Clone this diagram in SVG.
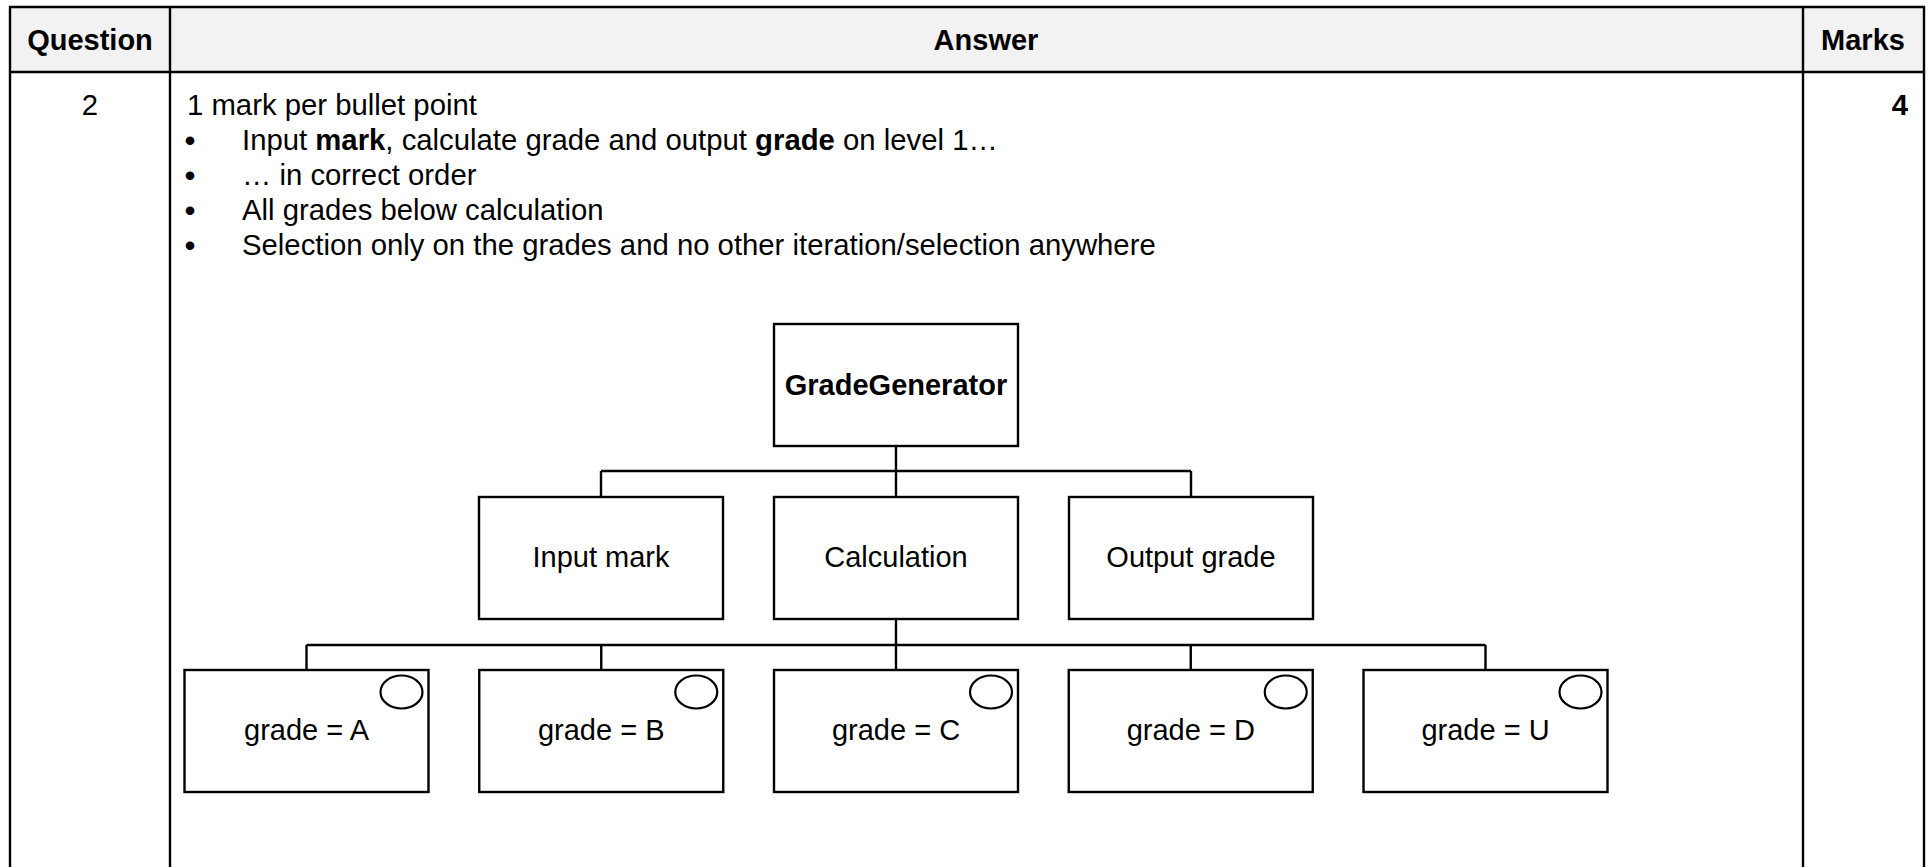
<svg xmlns="http://www.w3.org/2000/svg" width="1930" height="867" viewBox="0 0 1930 867">
<style>
text{font-family:"Liberation Sans",Arial,sans-serif;fill:#000;}
.hd{font-size:29px;font-weight:bold;text-anchor:middle;}
.bd{font-size:29.3px;}
.bul{font-size:30px;text-anchor:middle;font-weight:bold;}
.box rect{fill:#fff;stroke:#000;stroke-width:2.4;}
.box text{font-size:29px;text-anchor:middle;}
.sel{fill:none;stroke:#000;stroke-width:2.2;}
.tl{stroke:#000;stroke-width:2.4;fill:none;}
#connectors path{fill:none;stroke:#000;stroke-width:2.4;}
</style>
<rect x="0" y="0" width="1930" height="867" fill="#fff"/>
<g id="table">
<rect x="10" y="7" width="1914" height="65" fill="#f2f2f2"/>
<path class="tl" d="M10 867V7H1924V867M10 72H1924M170 7V867M1803 7V867"/>
<text class="hd" x="90" y="50">Question</text>
<text class="hd" x="986" y="50">Answer</text>
<text class="hd" x="1863" y="50">Marks</text>
<text class="bd" x="90" y="115" text-anchor="middle">2</text>
<text class="bd" x="1908" y="115" text-anchor="end" font-weight="bold">4</text>
<text class="bd" x="187" y="115">1 mark per bullet point</text>
<text class="bul" x="190" y="151">•</text>
<text class="bd" x="242" y="150">Input <tspan font-weight="bold">mark</tspan>, calculate grade and output <tspan font-weight="bold">grade</tspan> on level 1…</text>
<text class="bul" x="190" y="186">•</text>
<text class="bd" x="242" y="185">… in correct order</text>
<text class="bul" x="190" y="221">•</text>
<text class="bd" x="242" y="220">All grades below calculation</text>
<text class="bul" x="190" y="256">•</text>
<text class="bd" x="242" y="255">Selection only on the grades and no other iteration/selection anywhere</text>
</g>
<g id="connectors">
<path d="M896 446V471M601 471H1191M601 471V497M896 471V497M1191 471V497"/>
<path d="M896 619V645M306.5 645H1485.5M306.5 645V670M601.25 645V670M896 645V670M1190.75 645V670M1485.5 645V670"/>
</g>
<g id="gradegenerator" class="box">
<rect x="774" y="324" width="244" height="122"/>
<text x="896" y="395" font-weight="bold">GradeGenerator</text>
</g>
<g id="input-mark" class="box">
<rect x="479" y="497" width="244" height="122"/>
<text x="601" y="567">Input mark</text>
</g>
<g id="calculation" class="box">
<rect x="774" y="497" width="244" height="122"/>
<text x="896" y="567">Calculation</text>
</g>
<g id="output-grade" class="box">
<rect x="1069" y="497" width="244" height="122"/>
<text x="1191" y="567">Output grade</text>
</g>
<g id="grade-a" class="box">
<rect x="184.5" y="670" width="244" height="122"/>
<ellipse class="sel" cx="401.5" cy="692" rx="21" ry="16.5"/>
<text x="306.5" y="740">grade = A</text>
</g>
<g id="grade-b" class="box">
<rect x="479.25" y="670" width="244" height="122"/>
<ellipse class="sel" cx="696.25" cy="692" rx="21" ry="16.5"/>
<text x="601.25" y="740">grade = B</text>
</g>
<g id="grade-c" class="box">
<rect x="774" y="670" width="244" height="122"/>
<ellipse class="sel" cx="991" cy="692" rx="21" ry="16.5"/>
<text x="896" y="740">grade = C</text>
</g>
<g id="grade-d" class="box">
<rect x="1068.75" y="670" width="244" height="122"/>
<ellipse class="sel" cx="1285.75" cy="692" rx="21" ry="16.5"/>
<text x="1190.75" y="740">grade = D</text>
</g>
<g id="grade-u" class="box">
<rect x="1363.5" y="670" width="244" height="122"/>
<ellipse class="sel" cx="1580.5" cy="692" rx="21" ry="16.5"/>
<text x="1485.5" y="740">grade = U</text>
</g>
</svg>
